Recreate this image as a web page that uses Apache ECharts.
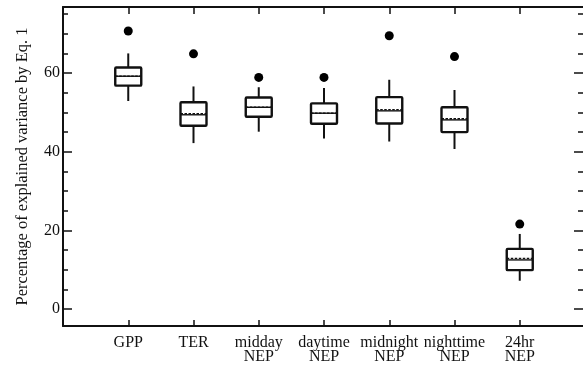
<!DOCTYPE html>
<html>
<head>
<meta charset="utf-8">
<script src="https://cdn.jsdelivr.net/npm/echarts@6/dist/echarts.min.js"></script>
<style>
  html, body { margin: 0; padding: 0; background: #fff; }
  #chart { width: 583px; height: 366px; }
</style>
</head>
<body>
<div id="chart"></div>
<script>
// categories (blank slots at both ends give the side padding)
const categories = ['', 'GPP', 'TER', 'midday\nNEP', 'daytime\nNEP', 'midnight\nNEP', 'nighttime\nNEP', '24hr\nNEP', ''];

// box statistics, one entry per real category (GPP .. 24hr NEP)
const whiskerLow  = [52.9, 42.2, 45.1, 43.4, 42.6, 40.7, 7.2];
const q1          = [56.8, 46.6, 48.9, 47.1, 47.2, 45.0, 9.9];
const median      = [59.2, 49.4, 51.3, 49.8, 50.4, 48.1, 12.5];
const q3          = [61.4, 52.6, 53.8, 52.3, 53.9, 51.3, 15.3];
const whiskerHigh = [65.0, 56.6, 56.4, 56.2, 58.3, 55.7, 19.1];
const mean        = [59.2, 49.7, 51.3, 49.8, 50.7, 48.4, 12.9];
const outliers    = [70.7, 64.9, 58.9, 58.9, 69.5, 64.2, 21.6];

// tick values
const majorTicks = [0, 20, 40, 60];
const minorTicks = [5, 10, 15, 25, 30, 35, 45, 50, 55, 65, 70, 75];

const FONT = '"Liberation Serif", "Times New Roman", serif';
const INK = '#111';

const boxData = q1.map((v, i) => [i + 1, whiskerLow[i], v, median[i], q3[i], whiskerHigh[i], mean[i]]);
const outlierData = outliers.map((v, i) => [i + 1, v]);

const chart = echarts.init(document.getElementById('chart'));

const showTick = (i) => i > 0 && i < categories.length - 1;

const yBase = { type: 'value', min: -4.3, max: 76.8, splitLine: { show: false } };

const option = {
  animation: false,
  backgroundColor: '#fff',
  // the right frame sits just past the picture edge
  grid: { left: 63, width: 522, top: 7, bottom: 40, outerBoundsMode: 'none', containLabel: false },
  xAxis: [
    {
      type: 'category',
      data: categories,
      boundaryGap: false,
      position: 'bottom',
      axisLine: { show: true, onZero: false, lineStyle: { color: INK, width: 2 } },
      axisTick: { show: true, inside: true, length: 6, interval: showTick, lineStyle: { color: INK, width: 1.5 } },
      axisLabel: {
        interval: 0, color: INK, fontFamily: FONT, fontSize: 16, lineHeight: 14, margin: 10,
      },
    },
    {
      type: 'category',
      data: categories,
      boundaryGap: false,
      position: 'top',
      axisLine: { show: true, onZero: false, lineStyle: { color: INK, width: 2 } },
      axisTick: { show: true, inside: true, length: 7, interval: showTick, lineStyle: { color: INK, width: 1.5 } },
      axisLabel: { show: false },
    },
  ],
  yAxis: [
    Object.assign({}, yBase, {
      position: 'left',
      name: 'Percentage of explained variance by Eq. 1',
      nameLocation: 'middle',
      nameGap: 32,
      nameTextStyle: { color: INK, fontFamily: FONT, fontSize: 16.5 },
      axisLine: { show: true, onZero: false, lineStyle: { color: INK, width: 2 } },
      axisTick: { show: true, inside: true, length: 9, customValues: majorTicks, lineStyle: { color: INK, width: 1.5 } },
      axisLabel: { customValues: majorTicks, color: INK, fontFamily: FONT, fontSize: 16, margin: 3 },
    }),
    Object.assign({}, yBase, {
      position: 'left',
      axisLine: { show: false },
      axisTick: { show: true, inside: true, length: 5, customValues: minorTicks, lineStyle: { color: INK, width: 1.5 } },
      axisLabel: { show: false },
    }),
    Object.assign({}, yBase, {
      position: 'right',
      axisLine: { show: true, onZero: false, lineStyle: { color: INK, width: 2 } },
      axisTick: { show: true, inside: true, length: 11, customValues: majorTicks, lineStyle: { color: INK, width: 1.5 } },
      axisLabel: { show: false },
    }),
    Object.assign({}, yBase, {
      position: 'right',
      axisLine: { show: false },
      axisTick: { show: true, inside: true, length: 7, customValues: minorTicks, lineStyle: { color: INK, width: 1.5 } },
      axisLabel: { show: false },
    }),
  ],
  series: [
    {
      type: 'custom',
      xAxisIndex: 0,
      yAxisIndex: 0,
      data: boxData,
      renderItem: (params, api) => {
        const x = api.value(0);
        const half = 13;
        const pLow = api.coord([x, api.value(1)]);
        const pQ1 = api.coord([x, api.value(2)]);
        const pMed = api.coord([x, api.value(3)]);
        const pQ3 = api.coord([x, api.value(4)]);
        const pHigh = api.coord([x, api.value(5)]);
        const pMean = api.coord([x, api.value(6)]);
        const cx = pQ1[0];
        const stroke = { stroke: INK, lineWidth: 2 };
        return {
          type: 'group',
          children: [
            { type: 'line', shape: { x1: cx, y1: pQ3[1], x2: cx, y2: pHigh[1] }, style: stroke },
            { type: 'line', shape: { x1: cx, y1: pQ1[1], x2: cx, y2: pLow[1] }, style: stroke },
            {
              type: 'rect',
              shape: { x: cx - half, y: pQ3[1], width: half * 2, height: pQ1[1] - pQ3[1], r: 1 },
              style: { fill: '#fff', stroke: INK, lineWidth: 2.4 },
            },
            { type: 'line', shape: { x1: cx - half, y1: pMed[1], x2: cx + half, y2: pMed[1] }, style: { stroke: INK, lineWidth: 1.4 } },
            {
              type: 'line',
              shape: { x1: cx - half, y1: pMean[1], x2: cx + half, y2: pMean[1] },
              style: { stroke: INK, lineWidth: 1.4, lineDash: [2.5, 1.5] },
            },
          ],
        };
      },
    },
    {
      type: 'scatter',
      xAxisIndex: 0,
      yAxisIndex: 0,
      data: outlierData,
      symbol: 'circle',
      symbolSize: 9,
      itemStyle: { color: '#000', opacity: 1 },
    },
  ],
};

chart.setOption(option);
</script>
</body>
</html>
